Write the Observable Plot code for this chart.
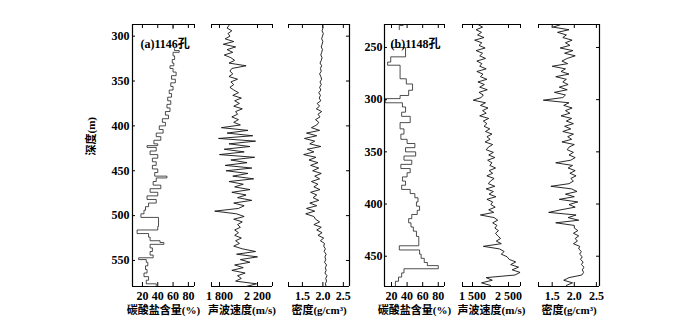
<!DOCTYPE html>
<html><head><meta charset="utf-8">
<script src="https://cdn.jsdelivr.net/npm/d3@7"></script>
<script src="https://cdn.jsdelivr.net/npm/@observablehq/plot@0.6"></script>
<style>body{margin:0;background:#fff} #chart{position:relative;width:700px;height:325px;background:#fff}</style>
</head><body><div id="chart"></div>
<script>
// ---------- Hole 1146 ----------
const depthTicksA = [300, 350, 400, 450, 500, 550];
const carbADepth = [287,292,293,314,316,318,322,326,330,333,336,340,344,348,352,356,360,364,368,372,376,380,384,388,392,396,400,404,408,412,416,420,422,424,428,432,436,440,444,448,452,456,458,462,466,470,474,478,482,486,490,494,498,502,512,516,520,524,528,530,532,536,540,544,547,549,552,556,560,564,568,572,576,579];
const carbAValue = [60,60,null,62,68,60,62,59,61,56,60,64,58,63,57,60,55,58,53,57,52,56,50,54,46,50,42,47,38,44,35,40,26,38,30,40,33,38,33,40,36,52,38,34,44,30,40,26,38,28,24,22,18,41,40,13,28,30,43,48,30,33,30,34,15,25,27,24,26,22,28,25,38,28];
const logStartA = 288, logStepA = 3;
const velA = [1900,1880,1930,1890,1910, 1860,1950,1840,1970,1880,1940,1850,1920, 1960,1900,2080,1930, 1910,1940,1900,1990,1920,1950,1910, 1950,2000,1940,2030,1960,2010,1950,2040,1970,1990, 1930,2000,1950,2020, 1820,2100,1880,2150,1790,2180,1900,2120,1850,2060,1800,2170,1920,2090,1860, 2140,1870,2100,1940,2160,1900,2050, 1960,2120,1930,2080,1990,2140,1950,2060,2000,1750, 1980,2060,1950,2040,1990,2020,1960, 2000,1960,2030,1970,2010,1950,2040, 2180,1980,2200,2020,2120, 1960,2050,1930,2070,1990,2030,1970, 2190,2080];
const densA = [1.99,2.00,1.98,2.01,1.99,1.97,2.00,1.98,1.96,1.99,1.97,1.95,1.98, 1.96,1.93,1.97,1.94,1.96,1.92,1.95,1.97,1.93,1.96,1.92,1.95,1.90,1.94,1.91, 1.95,1.86,1.92,1.84,1.97,1.88,1.93,1.82,1.90,1.85, 1.72,1.92,1.60,1.85,1.55,1.80,1.68,1.95,1.62,1.78,1.53,1.83,1.66,1.88,1.70, 1.90,1.75,1.96,1.80,1.92,1.72,1.88, 1.78,1.93,1.70,1.85,1.76,1.90, 1.68,1.85,1.60,1.80,1.58,1.78, 1.82,1.92,1.78,1.96,1.85,1.98,1.88,2.02,1.94,2.04, 2.02,2.06,2.03,2.08,2.05,2.07,2.04,2.09,2.06,2.08,2.05,2.10,2.07,2.09,2.06,2.08];

// ---------- Hole 1148 ----------
const depthTicksB = [250, 300, 350, 400, 450];
const carbBDepth = [228,229,233,234,246,250,259,264,267,280,285,291,296,299,303,307,312,316,322,328,333,338,342,346,350,354,358,362,366,370,374,378,382,386,390,394,398,402,406,410,414,418,422,426,431,440,444,448,452,456,459,462,466,470,474,479];
const carbBValue = [35,30,30,null,20,38,19,15,31,39,47,42,31,12,34,38,33,44,31,36,32,40,50,38,51,36,46,32,44,40,34,38,33,44,50,54,52,56,53,46,42,45,48,52,55,30,56,58,62,66,80,36,33,29,25,25];
const logStartB = 228, logStepB = 2.5;
const velB = [1650,1780,1600,1750,1640, 1820,1560,1760,1680,1850,1600,1780,1700,1860,1620,1760, 1700,1880,1620,1790,1720,1900,1650,1830,1700,1910,1680,1800,1740, 1520, 1860,1720,1930,1780,1880,1700,1950,1800,1900, 1820,1980,1860,2040,1900,1990,1850,2060,1940, 1880,2080,1950,2120,1920,2040,1980,2140,1960,2060,1900,2100,2000, 1940,2120,1880,2080,1960,2150,1900,2060,2010,2130,1950,2090,1720, 2100,2200,2060,2180,2120,2220,2140, 2200,2280,2160,2300,1800, 2250,2380,2300,2460,2520, 2700,2560,2780,2600,2820,2680, 1880,2050,1750,2000];
const densB = [1.70,1.52,1.88,1.62,1.82, 1.74,1.95,1.80,1.90,1.68,1.97,1.78,2.02,1.84, 1.72,1.85,1.50,1.80,1.70,1.88,1.58,1.82,1.74,1.86, 1.66,1.84,1.55,1.80,1.74, 1.30, 1.88,1.76,1.95,1.80,1.90,1.70,1.94,1.82,1.98, 1.78,1.92,1.74,1.98,1.85,1.94,1.72,2.00,1.88, 1.84,1.98,1.88,2.02,1.92,1.58, 1.96,1.86,2.02,1.90,2.04,1.92,1.98,1.88, 1.47, 1.94,2.06,1.80,2.00,1.66,2.08,1.88,2.02,1.70, 1.42,2.04,1.86,2.10,1.58,2.00, 2.00,2.08,1.98,2.10,2.02,2.07,1.98,2.12, 2.10,2.16,2.12,2.18,2.14, 2.20,2.16,2.22,2.18,2.21,2.17, 1.88,1.76,1.96,1.82];

// ---------- axis text ----------
const carbTicks = [20, 40, 60, 80];
const velTicksA = [1800, 2200];
const velTicksB = [1500, 2500];
const densTicks = [1.5, 2.0, 2.5];
const labelCarb = "碳酸盐含量(%)";
const labelVel = "声波速度(m/s)";
const labelDens = "密度(g/cm³)";
const titleA = "(a)1146孔";
const titleB = "(b)1148孔";
const depthLabel = "深度(m)";

const pairs = (ds, vs) => ds.map((d, i) => ({d, v: vs[i]}));
const logSeries = (start, step, vs) => vs.map((v, i) => ({d: start + i * step, v}));
const thousands = d => d3.format(",")(d).replace(",", " ");
const oneDec = d3.format(".1f");

const W = 700, H = 325, TOP = 24, BOTTOM = 286;
const FONT = "'Liberation Serif', 'Noto Sans CJK SC', serif";

function panel(o) {
  const innerW = o.right - o.left, innerH = BOTTOM - TOP;
  const tickVals = [...o.xDomain, ...o.xTicks];
  const marks = [
    Plot.ruleY(o.yDomain, {stroke: "black", strokeWidth: 1}),
    Plot.ruleX(tickVals, {stroke: "black", insetTop: innerH - 4}),
    Plot.ruleX(tickVals, {stroke: "black", insetBottom: innerH - 4}),
    Plot.line(o.series, {x: "v", y: "d", curve: o.curve || "linear", stroke: o.stroke || "#111", strokeWidth: o.sw || 0.9}),
    Plot.axisX(o.xTicks, {anchor: "bottom", tickSize: 0, tickPadding: 5, tickFormat: o.xFormat, label: null, fontWeight: "bold", fontSize: 12}),
    Plot.text([o.label], {frameAnchor: "bottom", dy: 27, fontSize: 11, fontWeight: "bold"})
  ];
  if (o.leftAxis) {
    marks.push(Plot.ruleX([o.xDomain[0]], {stroke: "black", strokeWidth: 1.2}));
    marks.push(Plot.ruleY(o.yTicks, {stroke: "black", insetRight: innerW - 3}));
    marks.push(Plot.axisY(o.yTicks, {anchor: "left", tickSize: 0, tickPadding: o.yPad, label: null, fontWeight: "bold", fontSize: 12}));
  }
  if (o.rightAxis) {
    marks.push(Plot.ruleX([o.xDomain[1]], {stroke: "black", strokeWidth: 1.2}));
    marks.push(Plot.ruleY(o.yTicks, {stroke: "black", insetLeft: innerW - 3}));
  }
  if (o.title) marks.push(Plot.text([o.title], {frameAnchor: "top-left", dx: o.titleDx, dy: 15, textAnchor: "start", fontSize: 12, fontWeight: "bold"}));
  if (o.yLabel) marks.push(Plot.text([o.yLabel], {frameAnchor: "left", dx: -41, rotate: -90, fontSize: 11, fontWeight: "bold"}));
  return Plot.plot({
    width: W, height: H,
    marginLeft: o.left, marginRight: W - o.right, marginTop: TOP, marginBottom: H - BOTTOM,
    x: {domain: o.xDomain, label: null},
    y: {domain: o.yDomain, reverse: true, label: null, axis: o.leftAxis ? undefined : null},
    style: {position: "absolute", left: "0px", top: "0px", background: "transparent", overflow: "visible", fontFamily: FONT, color: "black"},
    marks
  });
}

const chart = document.getElementById("chart");
const yA = [287, 579], yB = [228, 479];
[
  panel({left: 132, right: 194, xDomain: [7, 88], yDomain: yA, xTicks: carbTicks, xFormat: d => String(d), series: pairs(carbADepth, carbAValue), curve: "step-before", sw: 0.8, stroke: "#222", leftAxis: true, yTicks: depthTicksA, yPad: 3, label: labelCarb, title: titleA, titleDx: 8, yLabel: depthLabel}),
  panel({left: 211, right: 272, xDomain: [1716, 2358], yDomain: yA, xTicks: velTicksA, xFormat: thousands, series: logSeries(logStartA, logStepA, velA), label: labelVel}),
  panel({left: 288, right: 349, xDomain: [1.16, 2.65], yDomain: yA, xTicks: densTicks, xFormat: oneDec, series: logSeries(logStartA, logStepA, densA), rightAxis: true, yTicks: depthTicksA, label: labelDens}),
  panel({left: 384, right: 444, xDomain: [11, 88], yDomain: yB, xTicks: carbTicks, xFormat: d => String(d), series: pairs(carbBDepth, carbBValue), curve: "step-before", sw: 0.8, stroke: "#222", leftAxis: true, yTicks: depthTicksB, yPad: 2, label: labelCarb, title: titleB, titleDx: 6}),
  panel({left: 462, right: 520, xDomain: [1222, 2833], yDomain: yB, xTicks: velTicksB, xFormat: thousands, series: logSeries(logStartB, logStepB, velB), label: labelVel}),
  panel({left: 538, right: 599, xDomain: [1.19, 2.57], yDomain: yB, xTicks: densTicks, xFormat: oneDec, series: logSeries(logStartB, logStepB, densB), rightAxis: true, yTicks: depthTicksB, label: labelDens})
].forEach(svg => chart.appendChild(svg));
</script>
</body></html>
